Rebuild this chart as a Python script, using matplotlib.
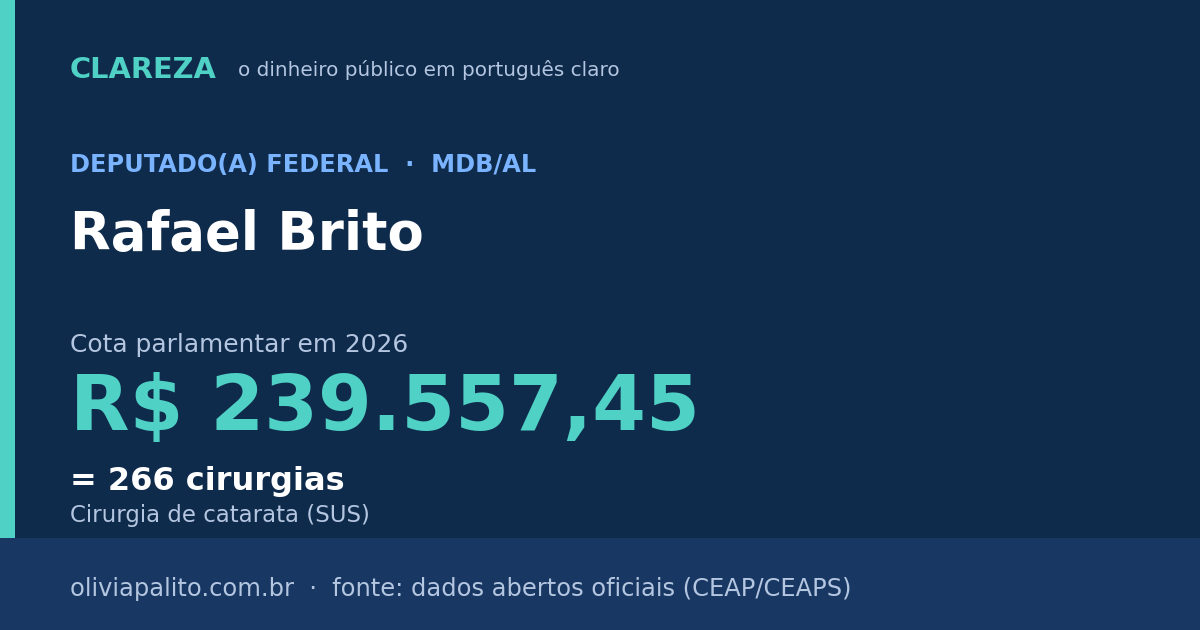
import matplotlib
matplotlib.use("Agg")
import matplotlib.pyplot as plt
from matplotlib.patches import Rectangle

plt.rcParams['font.family'] = ['DejaVu Sans']

brand = "CLAREZA"
tagline = "o dinheiro público em português claro"
role = "DEPUTADO(A) FEDERAL  ·  MDB/AL"
name = "Rafael Brito"
subtitle = "Cota parlamentar em 2026"
amount = "R$ 239.557,45"
equivalence = "= 266 cirurgias"
equivalence_desc = "Cirurgia de catarata (SUS)"
footer = "oliviapalito.com.br  ·  fonte: dados abertos oficiais (CEAP/CEAPS)"

BG = "#0f2b4c"
FOOT = "#183863"
TEAL = "#4fd1c5"
BLUE = "#7ab3ff"
GREY = "#b4c6e0"
WHITE = "#ffffff"

fig = plt.figure(figsize=(12, 6.3), dpi=100)
fig.patch.set_facecolor(BG)
ax = fig.add_axes([0, 0, 1, 1])
ax.set_xlim(0, 1200)
ax.set_ylim(630, 0)
ax.axis('off')

ax.add_patch(Rectangle((0, 538), 1200, 92, color=FOOT, lw=0))
ax.add_patch(Rectangle((0, 0), 15, 538, color=TEAL, lw=0))

ax.text(70, 78, brand, color=TEAL, fontsize=20.8, fontweight='bold', va='baseline')
ax.text(238, 76.5, tagline, color=GREY, fontsize=14.4, va='baseline')
ax.text(70, 172, role, color=BLUE, fontsize=17.25, fontweight='bold', va='baseline')
ax.text(70, 250, name, color=WHITE, fontsize=38.1, fontweight='bold', va='baseline')
ax.text(70, 352, subtitle, color=GREY, fontsize=17.9, va='baseline')
ax.text(70, 430, amount, color=TEAL, fontsize=55.7, fontweight='bold', va='baseline')
ax.text(70, 490, equivalence, color=WHITE, fontsize=23, fontweight='bold', va='baseline')
ax.text(70, 522, equivalence_desc, color=GREY, fontsize=16.5, va='baseline')
ax.text(70, 596, footer, color=GREY, fontsize=17.35, va='baseline')

fig.savefig("out.png", dpi=100, facecolor=BG)
